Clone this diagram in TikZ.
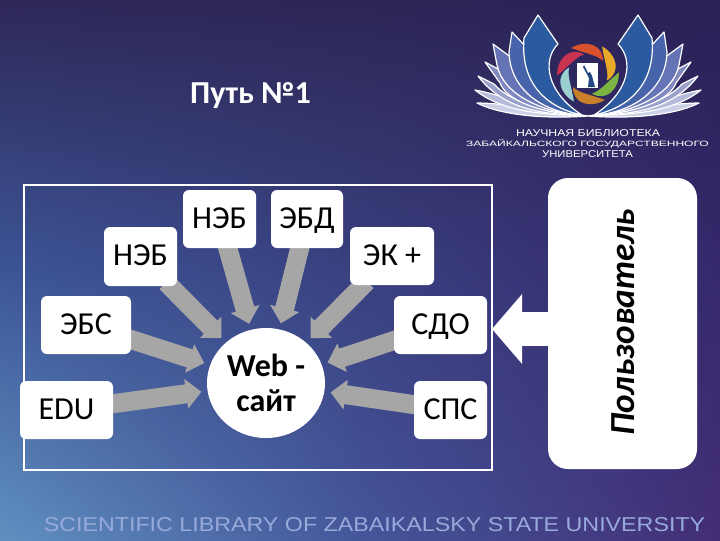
\documentclass[tikz,border=0pt]{standalone}
\usepackage{fontspec}
\usepackage{graphicx}
\setmainfont{Carlito}
\newfontfamily\widefont{Liberation Sans}
\usetikzlibrary{arrows.meta,shapes.geometric,shadings}
\pgfdeclarelayer{bg}
\pgfsetlayers{bg,main}
\newcommand\fitbox[3]{\resizebox{#1}{#2}{\widefont #3}}
\definecolor{ba}{HTML}{2E2858}
\definecolor{bb}{HTML}{2D2656}
\definecolor{bc}{HTML}{2A2156}
\definecolor{bd}{HTML}{3C5596}
\definecolor{be}{HTML}{39407F}
\definecolor{bf}{HTML}{36286C}
\definecolor{bg}{HTML}{6090C0}
\definecolor{bh}{HTML}{44569A}
\definecolor{bi}{HTML}{432E75}
\definecolor{footcol}{HTML}{98AADA}
\tikzset{
  lbl/.style={fill=white,rounded corners=4.5pt,inner sep=0pt,font=\fontsize{24}{28}\selectfont,text=black,text height=17pt,text depth=3.5pt},
  bar/.style={draw=barcol,line width=14.25pt,shorten <=-4pt,shorten >=4.5pt,-{Triangle[width=21.75pt,length=11.5pt,fill=barcol]}},
  bigarrow/.style={draw=white,line width=25.5pt,-{Triangle[width=51pt,length=22.5pt,fill=white]}},
  petal/.style={draw=white,line width=0.9pt,line join=round},
  logotext/.style={text=white,inner sep=0pt}
}
\definecolor{barcol}{HTML}{A6A6A6}
\newcommand\wing{
  \draw[petal,fill=p7] (-111,103) .. controls (-90,103) and (-50,108) .. (0,116) .. controls (-40,119) and (-85,116) .. cycle;
  \draw[petal,fill=p6] (-113,90) .. controls (-95,93) and (-60,105) .. (-10,115) .. controls (-50,115) and (-88,110) .. cycle;
  \draw[petal,fill=p5] (-110,76) -- (-94,84) .. controls (-80,100) and (-50,110) .. (-12,115) .. controls (-55,114) and (-88,105) .. cycle;
  \draw[petal,fill=p4] (-103,62) -- (-88,70) .. controls (-75,95) and (-45,110) .. (-12,115) .. controls (-50,112) and (-82,100) .. (-88,83) -- cycle;
  \draw[petal,fill=p3] (-95,44) -- (-76,58) .. controls (-65,90) and (-40,108) .. (-10,115) .. controls (-45,112) and (-85,95) .. (-91,65) -- cycle;
  \draw[petal,fill=p2] (-76,32) -- (-62,47) .. controls (-58,85) and (-35,105) .. (-8,115) .. controls (-45,112) and (-78,90) .. (-79,52) -- cycle;
  \draw[petal,fill=p1] (-50,15) -- (-30,44) .. controls (-46,60) and (-42,92) .. (-6,115) .. controls (-40,108) and (-68,85) .. (-64,38) -- cycle;
}
\definecolor{p1}{HTML}{2C5AA0}
\definecolor{p2}{HTML}{4763A9}
\definecolor{p3}{HTML}{6474B4}
\definecolor{p4}{HTML}{7F89BF}
\definecolor{p5}{HTML}{9AA2CC}
\definecolor{p6}{HTML}{B4BAD9}
\definecolor{p7}{HTML}{CCD0E6}
\begin{document}
\begin{tikzpicture}[x=0.75pt,y=-0.75pt]
\useasboundingbox (0,0) rectangle (720,540);
% labelled boxes
\node[lbl,minimum width=54.75pt,minimum height=43.5pt] (nebt) at (219.5,219) {НЭБ};
\node[lbl,minimum width=54pt,minimum height=43.5pt] (ebd) at (307,219) {ЭБД};
\node[lbl,minimum width=54.75pt,minimum height=44.25pt] (nebl) at (140.5,256.5) {НЭБ};
\node[lbl,minimum width=67.5pt,minimum height=43.5pt] (ebs) at (86,325) {ЭБС};
\node[lbl,minimum width=69.75pt,minimum height=43.5pt] (edu) at (66.5,410) {EDU};
\node[lbl,minimum width=63pt,minimum height=43.5pt] (ek) at (392,256) {ЭК +};
\node[lbl,minimum width=69.75pt,minimum height=43.5pt] (sdo) at (440.5,325) {СДО};
\node[lbl,minimum width=54.75pt,minimum height=43.5pt] (sps) at (450.5,410) {СПС};
\node[ellipse,fill=white,inner sep=0pt,minimum width=88.5pt,minimum height=82.5pt,align=center,font=\fontsize{24}{26}\selectfont\bfseries,text=black] (web) at (266,383) {Web -\\сайт};
\node[fill=white,rounded corners=15pt,inner sep=0pt,minimum width=111.75pt,minimum height=218.25pt] (user) at (622.5,323.5) {};
\node[rotate=90,font=\fontsize{26.4}{30}\selectfont\bfseries\itshape,text=black,inner sep=0pt] (usertext) at (623,322.5) {Пользователь};
\node[text=white,font=\fontsize{24}{28}\selectfont\bfseries,inner sep=0pt] (title) at (250.5,96) {Путь №1};
\coordinate (frameedge) at (492,329);
\begin{pgfonlayer}{bg}
  \shade[upper left=ba,upper right=bb,lower left=bd,lower right=be] (0,0) rectangle (361,271);
  \shade[upper left=bb,upper right=bc,lower left=be,lower right=bf] (360,0) rectangle (720,271);
  \shade[upper left=bd,upper right=be,lower left=bg,lower right=bh] (0,270) rectangle (361,540);
  \shade[upper left=be,upper right=bf,lower left=bh,lower right=bi] (360,270) rectangle (720,540);
  \node[draw=white,line width=1.5pt,inner sep=0pt,minimum width=351pt,minimum height=214pt] (frame) at (258,327.5) {};
  \draw[bar] (nebt) -- (web);
  \draw[bar] (ebd) -- (web);
  \draw[bar] (nebl) -- (web);
  \draw[bar] (ebs) -- (web);
  \draw[bar] (edu) -- (web);
  \draw[bar] (ek) -- (web);
  \draw[bar] (sdo) -- (web);
  \draw[bar] (sps) -- (web);
  \draw[bigarrow] (user.west |- frameedge) -- (frameedge);
\end{pgfonlayer}
% logo
\begin{scope}[shift={(588,0)}]\wing\end{scope}
\begin{scope}[shift={(588,0)},xscale=-1]\wing\end{scope}
\begin{scope}[shift={(588,74)}]
  \foreach \a/\c in {237/D9512C,297/E8A92A,357/7CB342,57/C8802A,117/9CCFD0,177/C8344F}{
    \definecolor{blade}{HTML}{\c}
    \fill[blade] (\a:31) .. controls (\a+30:35) and (\a+60:33) .. (\a+82:20) .. controls (\a+55:21) and (\a+30:20) .. cycle;
  }
\end{scope}
\fill[white] (577,63) rectangle (598,88);
\fill[p1!80!black] (584,65) -- (588,73) -- (590,72) -- (592,76) -- (595,87) -- (588,87) -- (589,78) -- (583,67) -- cycle;
\node[logotext] (logoa) at (588,133.5) {\fitbox{108pt}{5.2pt}{НАУЧНАЯ БИБЛИОТЕКА}};
\node[logotext] (logob) at (587.5,144) {\fitbox{182pt}{5.2pt}{ЗАБАЙКАЛЬСКОГО ГОСУДАРСТВЕННОГО}};
\node[logotext] (logoc) at (587.5,154) {\fitbox{68pt}{5.2pt}{УНИВЕРСИТЕТА}};
\node[text=footcol,inner sep=0pt] (foot) at (374.5,525) {\fitbox{496pt}{10.5pt}{SCIENTIFIC LIBRARY OF ZABAIKALSKY STATE UNIVERSITY}};
\end{tikzpicture}
\end{document}
